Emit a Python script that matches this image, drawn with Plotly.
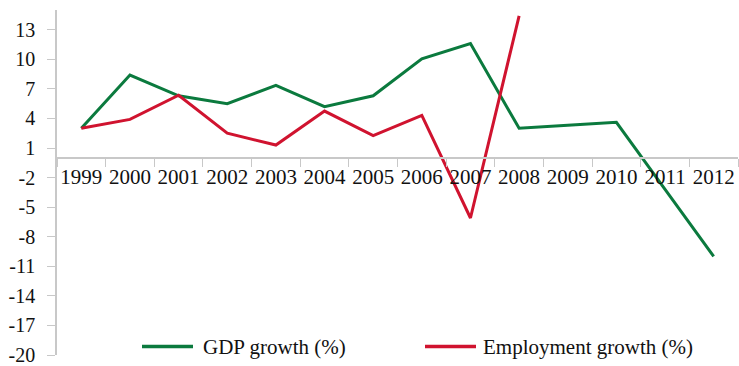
import plotly.graph_objects as go

years = ["1999", "2000", "2001", "2002", "2003", "2004", "2005",
         "2006", "2007", "2008", "2009", "2010", "2011", "2012"]
gdp_growth = [3.0, 8.4, 6.3, 5.5, 7.35, 5.2, 6.3, 10.05, 11.6, 3.0, 3.3, 3.6, -3.2, -10.0]
employment_growth = [3.0, 3.9, 6.35, 2.5, 1.3, 4.75, 2.25, 4.3, -6.1, 14.4]
employment_years = years[:len(employment_growth)]

y_ticks = list(range(-20, 14, 3))

GREEN = "#0b7a3e"
RED = "#d0132f"
AXIS = "#c8c8c8"
FONT = "'Liberation Serif', 'DejaVu Serif', serif"
TEXT = "#111111"

W, H = 739, 366
M_L, M_R, M_T, M_B = 57, 1, 10, 11
PLOT_W = W - M_L - M_R
PLOT_H = H - M_T - M_B


def px_x(x):
    return (x - M_L) / PLOT_W


def px_y(y):
    return (H - M_B - y) / PLOT_H


series = [
    ("GDP growth (%)", years, gdp_growth, GREEN),
    ("Employment growth (%)", employment_years, employment_growth, RED),
]

fig = go.Figure()
for name, xs, ys, color in series:
    fig.add_trace(go.Scatter(
        x=xs, y=ys, mode="lines", name=name,
        line=dict(color=color, width=3),
    ))

# Legend row along the bottom: a 50px line sample followed by the label
legend_y = 346.5
legend_items = [(142, 203), (425, 483)]
for (sample_x, text_x), (name, _, _, color) in zip(legend_items, series):
    fig.add_shape(
        type="line", xref="paper", yref="paper",
        x0=px_x(sample_x), x1=px_x(sample_x + 51),
        y0=px_y(legend_y), y1=px_y(legend_y),
        line=dict(color=color, width=3.5),
    )
    fig.add_annotation(
        xref="paper", yref="paper", x=px_x(text_x - 2), y=px_y(legend_y + 0.5),
        xanchor="left", yanchor="middle", showarrow=False,
        text=name, font=dict(family=FONT, size=21, color=TEXT),
    )

fig.update_layout(
    width=W, height=H,
    margin=dict(l=M_L, r=M_R, t=M_T, b=M_B),
    paper_bgcolor="white", plot_bgcolor="white",
    font=dict(family=FONT, size=20, color=TEXT),
    showlegend=False,
    xaxis=dict(
        type="category", categoryorder="array", categoryarray=years,
        range=[-0.5, 13.5],
        anchor="free", position=20 / 35,
        showline=True, linecolor=AXIS, linewidth=1.5,
        ticks="outside", tickson="boundaries", ticklen=8, tickcolor=AXIS,
        showgrid=False, zeroline=False, tickangle=0,
        tickfont=dict(family=FONT, size=21, color=TEXT),
        fixedrange=True,
    ),
    yaxis=dict(
        range=[-20, 15], tickmode="array", tickvals=y_ticks,
        ticktext=[str(v) for v in y_ticks],
        showline=True, linecolor=AXIS, linewidth=1.5,
        ticks="outside", ticklen=8, tickcolor=AXIS,
        showgrid=False, zeroline=False,
        tickfont=dict(family=FONT, size=20, color=TEXT),
        ticklabelstandoff=8,
        fixedrange=True,
    ),
)

fig.write_html("out.html")
